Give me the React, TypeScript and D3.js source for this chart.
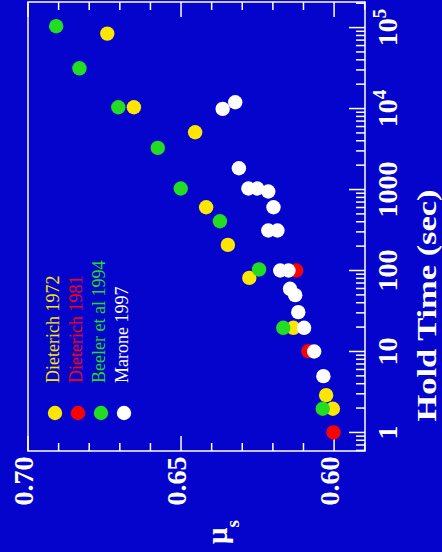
import React from "react";
import * as d3 from "d3";

// ---- data ----
const seriesNames = ["Dieterich 1972", "Dieterich 1981", "Beeler et al 1994", "Marone 1997"];
const seriesColors = ["#ffe600", "#ff0000", "#22dd22", "#ffffff"];

// [hold time (s), mu_s]
const dieterich1972: [number, number][] = [
  [84300, 0.6741], [10380, 0.6654], [5100, 0.6454], [604, 0.6418], [207, 0.6347],
  [81, 0.6277], [19.6, 0.6133], [2.89, 0.6026], [1.96, 0.6004],
];
const dieterich1981: [number, number][] = [
  [100, 0.6124], [10.1, 0.6084], [1, 0.6002],
];
const beeler1994: [number, number][] = [
  [104000, 0.6908], [31400, 0.6832], [10380, 0.6705], [3270, 0.6576], [1029, 0.6501],
  [406, 0.6373], [103, 0.6245], [19.6, 0.6166], [1.96, 0.6037],
];
const marone1997: [number, number][] = [
  [11960, 0.6323], [9910, 0.6364], [1833, 0.6311], [1029, 0.628], [1029, 0.6251],
  [945, 0.6215], [604, 0.6198], [312, 0.6215], [312, 0.6185], [100, 0.6176],
  [100, 0.6149], [59.4, 0.6144], [49.6, 0.6127], [30.6, 0.6117], [19.6, 0.6098],
  [10, 0.6065], [4.96, 0.6035],
];
const drawOrder = [0, 1, 2, 3];
const allSeries = [dieterich1972, dieterich1981, beeler1994, marone1997];

const muLimits = [0.7, 0.5899];
const timeLimits = [0.59, 207000];
const muTickValues = [0.59, 0.6, 0.61, 0.62, 0.63, 0.64, 0.65, 0.66, 0.67, 0.68, 0.69, 0.7];
const muMajorTicks = [0.6, 0.65, 0.7];
const muTickLabels = ["0.60", "0.65", "0.70"];
const timeMajorTicks = [1, 10, 100, 1000, 10000, 100000];
const timeTickBase = ["1", "10", "100", "1000", "10", "10"];
const timeTickExp = ["", "", "", "", "4", "5"];
const xTitle = "Hold Time (sec)";

const W = 442;
const H = 552;
const BG = "#0404cc";
const FONT = "'Liberation Serif', 'Times New Roman', serif";

export default function App() {
  const left = 28, right = 365, top = 2, bottom = 451;
  const x = d3.scaleLinear().domain(muLimits).range([left, right]);
  const y = d3.scaleLog().domain(timeLimits).range([bottom, top]);

  const minorTimeTicks: number[] = [];
  [0.1, 1, 10, 100, 1000, 10000, 100000].forEach((dec) => {
    for (let k = 2; k <= 9; k++) {
      const t = k * dec;
      if (t >= timeLimits[0] && t <= timeLimits[1]) minorTimeTicks.push(t);
    }
  });

  const isMajorMu = (v: number) => muMajorTicks.some((m) => Math.abs(m - v) < 1e-6);
  const r = 7.2;

  return (
    <svg width={W} height={H} style={{ position: "absolute", left: 0, top: 0, display: "block" }}>
      <rect x={0} y={0} width={W} height={H} fill={BG} />
      {/* frame */}
      <rect x={left} y={top} width={right - left} height={bottom - top} fill="none" stroke="#ffffff" strokeWidth={1.5} />
      {/* mu ticks top and bottom */}
      {muTickValues.map((v, i) => {
        const len = isMajorMu(v) ? 15 : 8;
        const xx = x(v);
        return (
          <g key={"mt" + i} stroke="#ffffff" strokeWidth={1.5}>
            <line x1={xx} x2={xx} y1={bottom} y2={bottom - len} />
            <line x1={xx} x2={xx} y1={top} y2={top + len} />
          </g>
        );
      })}
      {/* time ticks on right */}
      {timeMajorTicks.map((t, i) => (
        <line key={"tM" + i} x1={right} x2={right - 16} y1={y(t)} y2={y(t)} stroke="#ffffff" strokeWidth={1.5} />
      ))}
      {minorTimeTicks.map((t, i) => (
        <line key={"tm" + i} x1={right} x2={right - 9} y1={y(t)} y2={y(t)} stroke="#ffffff" strokeWidth={1.5} />
      ))}
      {/* mu tick labels */}
      {muMajorTicks.map((v, i) => (
        <text key={"ml" + i} transform={`translate(${x(v) + 5},481) rotate(-90)`} textAnchor="middle"
          fill="#ffffff" fontFamily={FONT} fontWeight="bold" fontSize={28}>
          {muTickLabels[i]}
        </text>
      ))}
      {/* time tick labels */}
      {timeMajorTicks.map((t, i) => (
        <text key={"tl" + i} transform={`translate(397,${y(t)}) rotate(-90)`} textAnchor="middle"
          fill="#ffffff" fontFamily={FONT} fontWeight="bold" fontSize={28}>
          {timeTickBase[i]}
          {timeTickExp[i] ? (
            <tspan fontSize={19} dy={-11}>{timeTickExp[i]}</tspan>
          ) : null}
        </text>
      ))}
      {/* axis titles */}
      <text transform={`translate(436,${(188 + 423) / 2}) rotate(-90)`} textAnchor="middle"
        fill="#ffffff" fontFamily={FONT} fontWeight="bold" fontSize={28}
        textLength={232} lengthAdjust="spacingAndGlyphs">
        {xTitle}
      </text>
      <text transform={`translate(227,544) rotate(-90)`} textAnchor="start"
        fill="#ffffff" fontFamily={FONT} fontWeight="bold" fontSize={29}>
        μ<tspan fontSize={19} dy={12}>s</tspan>
      </text>
      {/* points */}
      {drawOrder.map((si) => (
        <g key={"s" + si}>
          {allSeries[si].map((p, j) => (
            <circle key={j} cx={x(p[1])} cy={y(p[0])} r={r} fill={seriesColors[si]} />
          ))}
        </g>
      ))}
      {/* legend */}
      {seriesNames.map((name, i) => {
        const lx = 55 + i * 23;
        return (
          <g key={"lg" + i}>
            <circle cx={lx} cy={413} r={r} fill={seriesColors[i]} />
            <text transform={`translate(${lx + 4},383) rotate(-90)`} textAnchor="start"
              fill={seriesColors[i]} fontFamily={FONT} fontSize={18}>
              {name}
            </text>
          </g>
        );
      })}
    </svg>
  );
}
